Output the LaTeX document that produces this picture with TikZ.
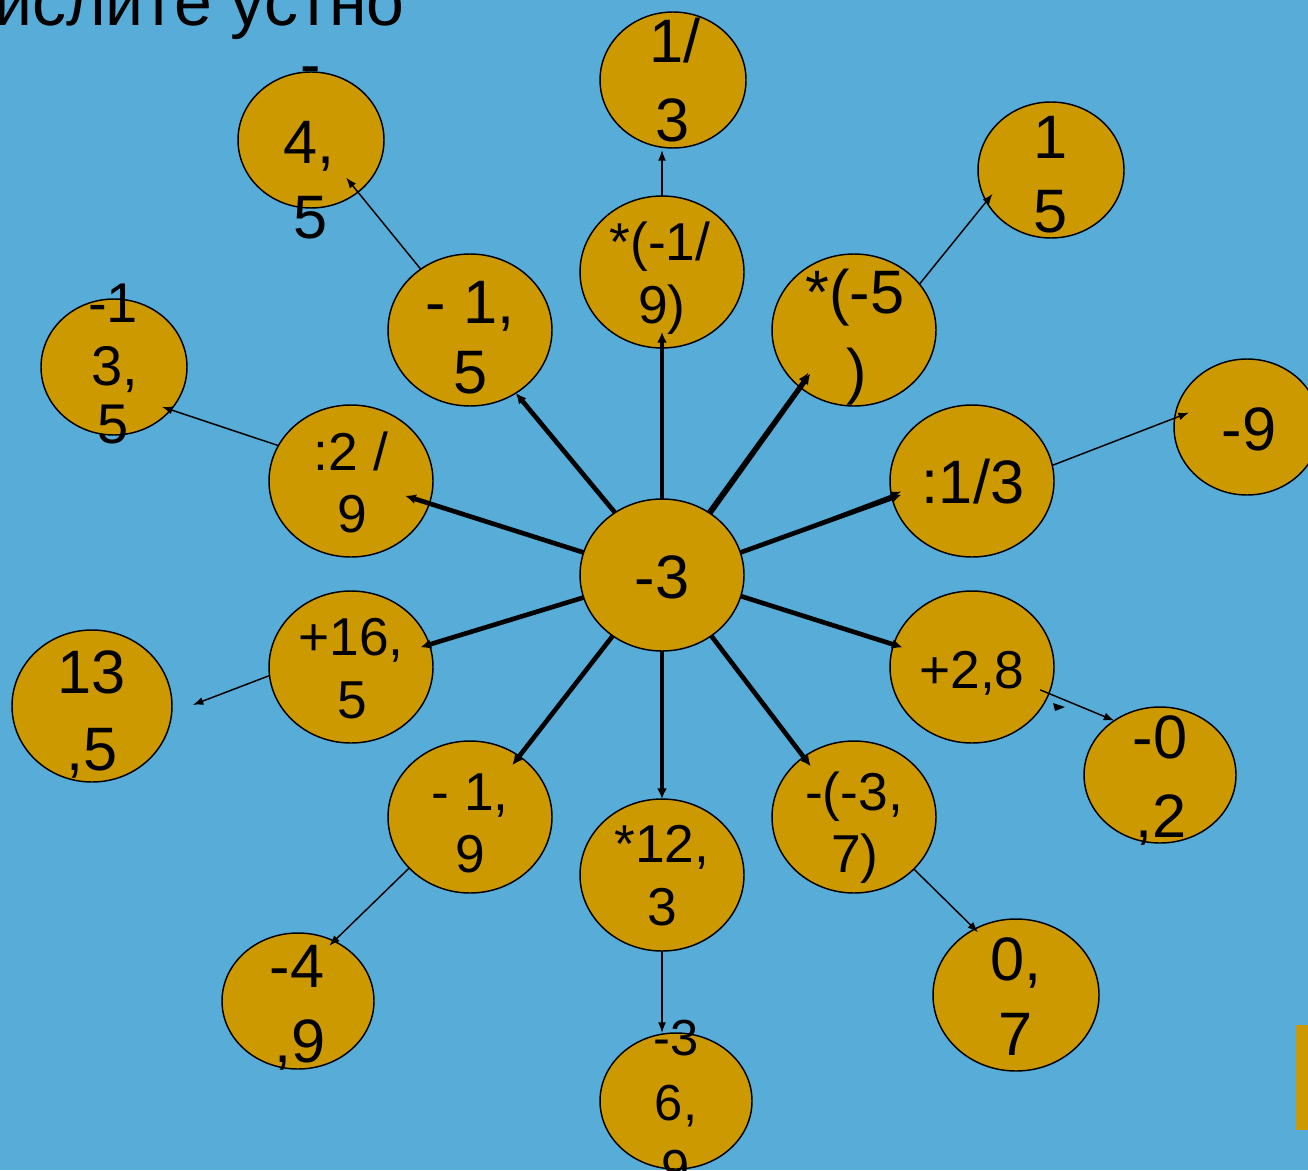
\documentclass[tikz,border=0pt]{standalone}
\usepackage{fontspec}
\setmainfont{Liberation Sans}
\usetikzlibrary{shapes.geometric,arrows.meta,calc}
\definecolor{bgblue}{RGB}{88,172,216}
\definecolor{gold}{RGB}{204,153,0}
\begin{document}
\begin{tikzpicture}[x=0.75pt,y=-0.75pt,
  bub/.style={ellipse, draw=black, line width=1.1pt, fill=gold, inner sep=0pt, outer sep=0pt},
  sA/.style={bub, minimum width=123pt, minimum height=114pt},
  sB/.style={bub, minimum width=109.5pt, minimum height=102pt},
  sC/.style={bub, minimum width=114pt, minimum height=102pt},
  big/.style={font=\fontsize{46}{55}\selectfont, anchor=base, inner sep=0pt},
  med/.style={font=\fontsize{40}{48}\selectfont, anchor=base, inner sep=0pt},
  midt/.style={font=\fontsize{42}{50}\selectfont, anchor=base, inner sep=0pt},
  smt/.style={font=\fontsize{38}{46}\selectfont, anchor=base, inner sep=0pt},
  fatarrow/.style={line width=3.5pt, -{Latex[length=8pt,width=7.5pt]}},
  slimarrow/.style={line width=1.1pt, -{Latex[length=8pt,width=6pt]}},
]
\fill[bgblue] (0,0) rectangle (1308,1170);
\path[use as bounding box] (0,0) rectangle (1308,1170);
\clip (0,0) rectangle (1308,1170);

% title
\node[font=\fontsize{51}{60}\selectfont, anchor=base east, inner sep=0pt] (title) at (405,26) {Вычислите устно};

% ellipses
\node[sA] (c) at (662,575) {};
\node[sA] (o19) at (662,272) {};
\node[sB] (r13) at (673,80) {};
\node[sA] (m15) at (470,330) {};
\node[sB] (r45) at (311,140) {};
\node[sA] (o5) at (854,330) {};
\node[sB] (r15) at (1051,170) {};
\node[sA] (d29) at (351,481) {};
\node[sB] (r135) at (114,367) {};
\node[sA] (d13) at (972,481) {};
\node[sB] (r9) at (1247,427) {};
\node[sA] (p165) at (351,667) {};
\node[bub, minimum width=120pt, minimum height=114pt] (r135b) at (92,706) {};
\node[sA] (p28) at (972,667) {};
\node[sC] (r02) at (1160,775) {};
\node[sA] (m19) at (470,817) {};
\node[sC] (r49) at (298,1001) {};
\node[sA] (m123) at (662,875) {};
\node[sC] (r369) at (676,1101) {};
\node[sA] (m37) at (854,817) {};
\node[bub, minimum width=124.5pt, minimum height=114pt] (r07) at (1016,995) {};

\fill[gold] (1296,1025) rectangle (1310,1130);

% thick connectors from the centre
\draw[fatarrow, shorten >=-12pt] (c.north) -- (o19.south);
\draw[fatarrow] (c.127.3) -- (m15.-54.2);
\draw[fatarrow, shorten >=-19pt] (c.164.7) -- (d29.-16.5);
\draw[fatarrow, shorten >=-7pt] (c.196.6) -- (p165.16.2);
\draw[fatarrow, shorten >=-8.5pt] (c.231) -- (m19.51.1);
\draw[fatarrow] (c.south) -- (m123.north);
\draw[fatarrow, shorten >=-8.8pt] (c.-51.1) -- (m37.130.1);
\draw[fatarrow, shorten >=-7pt] (c.-15.8) -- (p28.164.8);
\draw[fatarrow, shorten >=-7.5pt] (c.16.1) -- (d13.192.1);
\draw[slimarrow, shorten >=-7.5pt] (c.16.1) -- ([shift={(0,-3)}]d13.192.1);
\draw[fatarrow, shorten >=-12.8pt] (c.52.7) -- (o5.227);
\draw[slimarrow, shorten >=-12.8pt] ([shift={(-3,-1)}]c.52.7) -- ([shift={(-2,-1)}]o5.227);

% thin connectors to the results
\draw[slimarrow, shorten >=-14pt] (m15.129) -- (r45.-48);
\draw[slimarrow, shorten >=1.5pt] (o19.north) -- (o19.north |- r13.south);
\draw[slimarrow, shorten >=-7.5pt] (o5.35.5) -- (r15.-154.4);
\draw[slimarrow, shorten >=-7pt] (d29.154.1) -- (r135.-37.8);
\draw[slimarrow, shorten >=-11.6pt] (d13.11.7) -- (r9.173);
\draw[slimarrow, shorten >=16.9pt] (p165.186.9) -- (r135b.-5.7);
\draw[slimarrow, shorten <=-7pt] (p28.-19.4) -- (r02.130.5);
\draw[slimarrow, shorten >=-5pt] (m19.220.3) -- (r49.59.3);
\draw[slimarrow] (m123.south) -- (m123.south |- r369.north);
\draw[slimarrow, shorten >=-3.5pt] (m37.-41.2) -- (r07.122.2);
\fill (1053,703) -- (1065,707) -- (1055,711) -- cycle;

% texts
\node[big] (tc) at (662,598) {-3};
\node[big] (t13a) at (675,63) {1/};
\node[big] (t13b) at (673,142) {3};
\node[big] (t15a) at (470,323) {- 1,};
\node[big] (t15b) at (471,393) {5};
\node[big] (t45a) at (311,86) {-};
\node[big] (t45b) at (309,163) {4,};
\node[big] (t45c) at (311,238) {5};
\node[med] (t19a) at (660,260) {*(-1/};
\node[med] (t19b) at (662,323) {9)};
\node[big] (t5a) at (855,313) {*(-5};
\node[big] (t5b) at (857,392) {)};
\node[big] (t15ra) at (1051,158) {1};
\node[big] (t15rb) at (1051,232) {5};
\node[med] (t29a) at (351,470) {:2 /};
\node[med] (t29b) at (352,532) {9};
\node[midt] (t135a) at (113,322) {-1};
\node[midt] (t135b) at (115,385) {3,};
\node[midt] (t135c) at (113,443) {5};
\node[big] (t13d) at (973,503) {:1/3};
\node[big] (t9) at (1249,450) {-9};
\node[med] (t165a) at (351,655) {+16,};
\node[med] (t165b) at (352,718) {5};
\node[big] (t135ba) at (92,693) {13};
\node[big] (t135bb) at (92,770) {,5};
\node[med] (t28) at (972,688) {+2,8};
\node[big] (t02a) at (1160,758) {-0};
\node[big] (t02b) at (1161,837) {,2};
\node[med] (t19ma) at (470,810) {- 1,};
\node[med] (t19mb) at (470,872) {9};
\node[big] (t49a) at (297,987) {-4};
\node[big] (t49b) at (300,1062) {,9};
\node[med] (t123a) at (662,862) {*12,};
\node[med] (t123b) at (662,925) {3};
\node[smt] (t369a) at (676,1055) {-3};
\node[smt] (t369b) at (676,1120) {6,};
\node[smt] (t369c) at (676,1185) {9};
\node[med] (t37a) at (854,810) {-(-3,};
\node[med] (t37b) at (855,872) {7)};
\node[big] (t07a) at (1016,980) {0,};
\node[big] (t07b) at (1016,1055) {7};
\end{tikzpicture}
\end{document}
